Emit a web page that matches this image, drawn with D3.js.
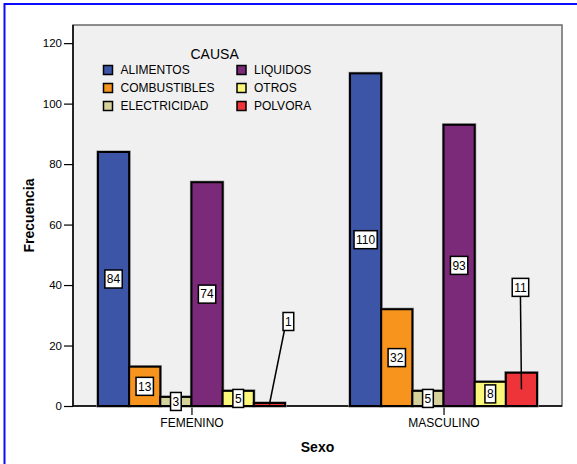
<!DOCTYPE html>
<html>
<head>
<meta charset="utf-8">
<script src="https://cdn.jsdelivr.net/npm/d3@7"></script>
<style>
  html, body { margin: 0; padding: 0; background: #ffffff; }
  svg { display: block; font-family: "Liberation Sans", Arial, sans-serif; }
</style>
</head>
<body>
<svg id="chart" width="577" height="464"></svg>
<script>
// Frecuencia de quemaduras por causa y sexo
const sexos = ["FEMENINO", "MASCULINO"];
const causas = ["ALIMENTOS", "COMBUSTIBLES", "ELECTRICIDAD", "LIQUIDOS", "OTROS", "POLVORA"];
const femenino = [84, 13, 3, 74, 5, 1];
const masculino = [110, 32, 5, 93, 8, 11];
const yTicks = [0, 20, 40, 60, 80, 100, 120];
const colores = ["#3c55a6", "#f7941d", "#d5d19b", "#7b2a7a", "#fbf77a", "#ef3439"];

// labels that sit away from their bar, joined by a leader line (pixel offsets)
const etiquetasDesplazadas = {
  "FEMENINO|POLVORA": { dx: 19, dy: -83 },
  "MASCULINO|POLVORA": { dx: -1, dy: -102 }
};

const svg = d3.select("#chart");
const plot = { left: 73, right: 562, top: 25, bottom: 406 };

// outer blue frame (runs past the right and bottom edges)
svg.append("rect")
  .attr("x", 4.5).attr("y", 4)
  .attr("width", 600).attr("height", 500)
  .attr("fill", "none").attr("stroke", "#0a0aff").attr("stroke-width", 2);

// plot background
svg.append("rect")
  .attr("x", plot.left).attr("y", plot.top)
  .attr("width", plot.right - plot.left).attr("height", plot.bottom - plot.top)
  .attr("fill", "#f0f0f0").attr("stroke", "#6a6a6a").attr("stroke-width", 1.5);

const y = d3.scaleLinear().domain([0, 126]).range([plot.bottom, plot.top]);
const x0 = d3.scalePoint().domain(sexos).range([plot.left, plot.right]).padding(0.47);
const groupWidth = 187;
const x1 = d3.scaleBand().domain(causas).range([-groupWidth / 2, groupWidth / 2]);

const datos = sexos.map((s, i) => ({
  sexo: s,
  valores: causas.map((c, j) => ({ sexo: s, causa: c, valor: (i === 0 ? femenino : masculino)[j], color: colores[j] }))
}));

// y axis
const yAxis = d3.axisLeft(y).tickValues(yTicks).tickSize(9).tickPadding(2);
const gy = svg.append("g").attr("transform", `translate(${plot.left},0)`).call(yAxis);
gy.select(".domain").attr("stroke", "#000").attr("stroke-width", 1.5)
  .attr("d", `M0,${plot.top}V${plot.bottom}`);
gy.selectAll(".tick line").attr("stroke", "#000").attr("stroke-width", 1.2);
gy.selectAll(".tick text").attr("fill", "#000")
  .style("font-size", "11.5px").style("font-family", "Liberation Sans, Arial, sans-serif");

// x axis
const xAxis = d3.axisBottom(x0).tickSize(9).tickPadding(3);
const gx = svg.append("g").attr("transform", `translate(0,${plot.bottom})`).call(xAxis);
gx.select(".domain").attr("stroke", "#000").attr("stroke-width", 1.5)
  .attr("d", `M${plot.left},0H${plot.right}`);
gx.selectAll(".tick line").attr("stroke", "#000").attr("stroke-width", 1.2);
gx.selectAll(".tick text").attr("fill", "#000")
  .style("font-size", "12px").style("font-family", "Liberation Sans, Arial, sans-serif");

// bars
const grupos = svg.append("g").selectAll("g.grupo").data(datos).join("g")
  .attr("class", "grupo")
  .attr("transform", d => `translate(${x0(d.sexo)},0)`);

grupos.selectAll("rect.sombra").data(d => d.valores).join("rect")
  .attr("class", "sombra")
  .attr("x", d => x1(d.causa))
  .attr("y", d => y(d.valor))
  .attr("width", x1.bandwidth())
  .attr("height", d => y(0) - y(d.valor))
  .attr("fill", "none").attr("stroke", "#9a9a9a").attr("stroke-width", 3.2);

grupos.selectAll("rect.barra").data(d => d.valores).join("rect")
  .attr("class", "barra")
  .attr("x", d => x1(d.causa))
  .attr("y", d => y(d.valor))
  .attr("width", x1.bandwidth())
  .attr("height", d => y(0) - y(d.valor))
  .attr("fill", d => d.color).attr("stroke", "#000").attr("stroke-width", 2);

// value labels
const etiquetas = svg.append("g");
datos.forEach(g => {
  g.valores.forEach(d => {
    const cx = x0(d.sexo) + x1(d.causa) + x1.bandwidth() / 2;
    const cy = (y(d.valor) + y(0)) / 2;
    const off = etiquetasDesplazadas[d.sexo + "|" + d.causa];
    const lx = off ? cx + off.dx : cx;
    const ly = off ? cy + off.dy : cy;
    const lab = etiquetas.append("g");
    if (off) {
      lab.append("line")
        .attr("x1", cx).attr("y1", cy)
        .attr("x2", lx - (off.dx > 0 ? 4 : 0)).attr("y2", ly + 9)
        .attr("stroke", "#000").attr("stroke-width", 1.5);
    }
    const t = lab.append("text")
      .attr("x", lx).attr("y", ly + 4.3)
      .attr("text-anchor", "middle")
      .attr("fill", "#000")
      .style("font-size", "12px")
      .text(d.valor);
    const w = t.node().getComputedTextLength() + 4;
    lab.insert("rect", "text")
      .attr("x", lx - w / 2).attr("y", ly - 9)
      .attr("width", w).attr("height", 18)
      .attr("fill", "#fff").attr("stroke", "#000").attr("stroke-width", 1.5);
  });
});

// legend
const leyenda = svg.append("g");
leyenda.append("text")
  .attr("x", 190.5).attr("y", 59)
  .attr("fill", "#000")
  .style("font-size", "14px")
  .text("CAUSA");
const items = leyenda.selectAll("g.item").data(causas).join("g")
  .attr("class", "item")
  .attr("transform", (d, i) => `translate(${i < 3 ? 103.5 : 237},${65.5 + (i % 3) * 18})`);
items.append("rect")
  .attr("width", 9).attr("height", 9)
  .attr("fill", (d, i) => colores[i]).attr("stroke", "#000").attr("stroke-width", 1.5);
items.append("text")
  .attr("x", 17).attr("y", 8.5)
  .attr("fill", "#000")
  .style("font-size", "12px")
  .text(d => d);

// axis titles
svg.append("text")
  .attr("x", (plot.left + plot.right) / 2).attr("y", 451.5)
  .attr("text-anchor", "middle")
  .attr("fill", "#000")
  .style("font-size", "14px").style("font-weight", "bold")
  .text("Sexo");
svg.append("text")
  .attr("transform", `translate(34,${(plot.top + plot.bottom) / 2}) rotate(-90)`)
  .attr("text-anchor", "middle")
  .attr("fill", "#000")
  .style("font-size", "14px").style("font-weight", "bold")
  .text("Frecuencia");
</script>
</body>
</html>
